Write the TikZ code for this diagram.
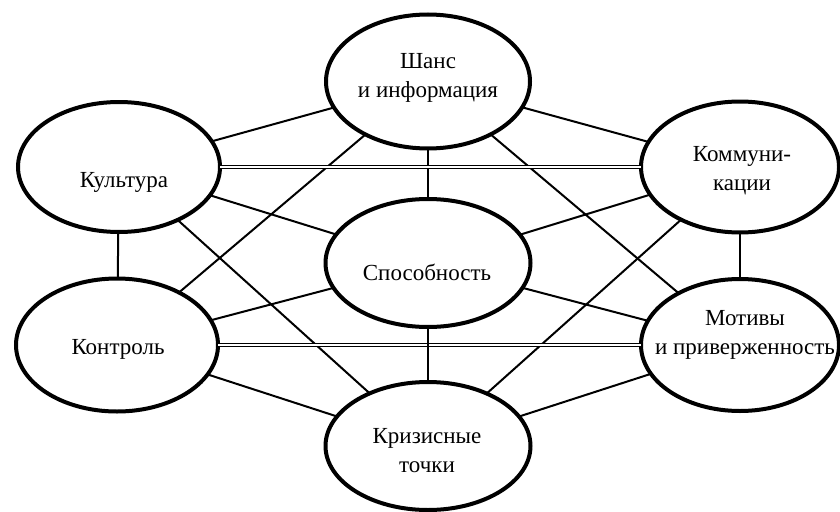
\documentclass[tikz,border=0pt]{standalone}
\usepackage{fontspec}
\setmainfont{Liberation Serif}
\usetikzlibrary{shapes.geometric}
\tikzset{
  oval/.style={ellipse, draw=black, line width=4pt, fill=white, inner sep=0pt, outer sep=0pt},
  lbl/.style={align=center, inner sep=0pt, font=\fontsize{23}{29}\selectfont},
  link/.style={line width=2pt},
  dlink/.style={line width=1.5pt, double, double distance=1.6pt}
}
\begin{document}
\begin{tikzpicture}[x=1pt,y=-1pt]
\useasboundingbox (0,0) rectangle (840,511);
\clip (0,0) rectangle (840,511);
\node[oval, minimum width=204pt, minimum height=134pt] (shans) at (428,81.5) {};
\node[oval, minimum width=202pt, minimum height=130pt] (kult) at (119,167) {};
\node[oval, minimum width=198pt, minimum height=131pt] (komm) at (740,167) {};
\node[oval, minimum width=202pt, minimum height=133pt] (kontr) at (117,345) {};
\node[oval, minimum width=198pt, minimum height=132pt] (motiv) at (740,345) {};
\node[oval, minimum width=205pt, minimum height=128pt] (sposob) at (428,263) {};
\node[oval, minimum width=205pt, minimum height=128pt] (krizis) at (428,446) {};
% connectors
\draw[link] (shans) -- (kult);
\draw[link] (shans) -- (komm);
\draw[link] (shans) -- (sposob);
\draw[link] (shans) -- (kontr);
\draw[link] (shans) -- (motiv);
\draw[dlink] (kult) -- (komm);
\draw[link] (kult) -- (kontr);
\draw[link] (kult) -- (sposob);
\draw[link] (kult) -- (krizis);
\draw[link] (komm) -- (sposob);
\draw[link] (komm) -- (motiv);
\draw[link] (komm) -- (krizis);
\draw[link] (kontr) -- (sposob);
\draw[dlink] (kontr) -- (motiv);
\draw[link] (kontr) -- (krizis);
\draw[link] (motiv) -- (sposob);
\draw[link] (motiv) -- (krizis);
\draw[link] (sposob) -- (krizis);
% labels
\node[lbl] (tshans) at (428,78) {Шанс\\и информация};
\node[lbl] (tkult) at (124,182) {Культура};
\node[lbl] (tkomm) at (742,171) {Коммуни-\\кации};
\node[lbl] (tkontr) at (118,349) {Контроль};
\node[lbl] (tmotiv) at (745,335) {Мотивы\\и приверженность};
\node[lbl] (tsposob) at (427,272) {Способность};
\node[lbl] (tkrizis) at (427,451) {Кризисные\\точки};
\end{tikzpicture}
\end{document}
